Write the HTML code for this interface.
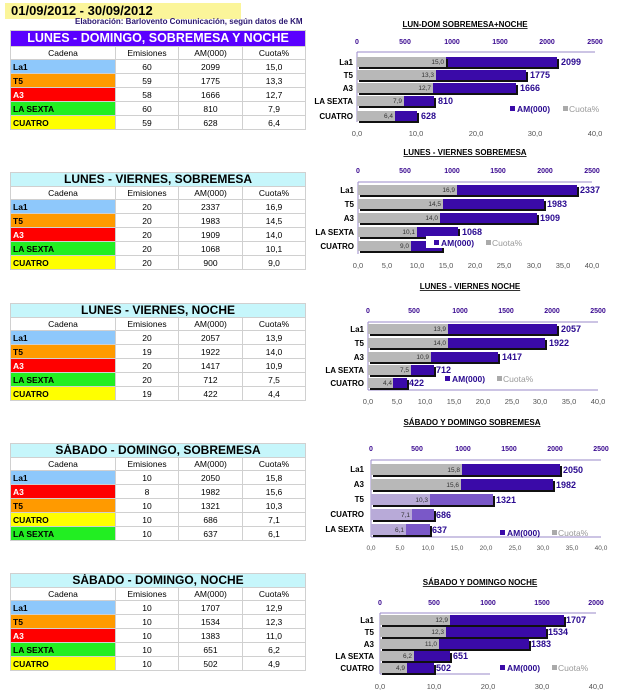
<!DOCTYPE html>
<html><head><meta charset="utf-8">
<style>
body{margin:0;width:617px;height:692px;background:#fff;position:relative;overflow:hidden;font-family:"Liberation Sans",sans-serif}
.t{position:absolute;left:10px;width:295px;border-collapse:collapse;table-layout:fixed;font-size:8.5px}
.t td{border:1px solid #d0d0d0;padding:0;text-align:center;height:13px;line-height:12px;overflow:hidden;white-space:nowrap}
.t td.n{text-align:left;font-weight:bold;padding-left:2px}
.t .ti td{background:#c6f6fb;font-weight:bold;font-size:12px;height:13px;line-height:13px}
.t .hd td{height:12px;line-height:12px}
.b{background:#8ec8fb}.o{background:#ff9a00}.r{background:#ff0000;color:#fff}.g{background:#22ee22}.y{background:#ffff00}
svg{position:absolute;left:0;top:0}
</style></head><body>
<div style="position:absolute;left:5px;top:3px;width:236px;height:16px;background:#fbf59a;font-weight:bold;font-size:13px;line-height:16px;padding-left:6px;box-sizing:border-box">01/09/2012 - 30/09/2012</div>
<div style="position:absolute;left:75px;top:17px;font-size:8px;font-weight:bold;color:#2a1670">Elaboración: Barlovento Comunicación, según datos de KM</div>

<table class="t" style="top:30px">
<colgroup><col style="width:105px"><col style="width:63px"><col style="width:64px"><col style="width:63px"></colgroup>
<tr class="ti"><td colspan="4" style="background:#5a00ff;color:#fff;height:15px;font-size:12.5px">LUNES - DOMINGO, SOBREMESA Y NOCHE</td></tr>
<tr class="hd"><td>Cadena</td><td>Emisiones</td><td>AM(000)</td><td>Cuota%</td></tr>
<tr><td class="n b">La1</td><td>60</td><td>2099</td><td>15,0</td></tr>
<tr><td class="n o">T5</td><td>59</td><td>1775</td><td>13,3</td></tr>
<tr><td class="n r">A3</td><td>58</td><td>1666</td><td>12,7</td></tr>
<tr><td class="n g">LA SEXTA</td><td>60</td><td>810</td><td>7,9</td></tr>
<tr><td class="n y">CUATRO</td><td>59</td><td>628</td><td>6,4</td></tr>
</table>

<table class="t" style="top:172px">
<colgroup><col style="width:105px"><col style="width:63px"><col style="width:64px"><col style="width:63px"></colgroup>
<tr class="ti"><td colspan="4">LUNES - VIERNES, SOBREMESA</td></tr>
<tr class="hd"><td>Cadena</td><td>Emisiones</td><td>AM(000)</td><td>Cuota%</td></tr>
<tr><td class="n b">La1</td><td>20</td><td>2337</td><td>16,9</td></tr>
<tr><td class="n o">T5</td><td>20</td><td>1983</td><td>14,5</td></tr>
<tr><td class="n r">A3</td><td>20</td><td>1909</td><td>14,0</td></tr>
<tr><td class="n g">LA SEXTA</td><td>20</td><td>1068</td><td>10,1</td></tr>
<tr><td class="n y">CUATRO</td><td>20</td><td>900</td><td>9,0</td></tr>
</table>

<table class="t" style="top:303px">
<colgroup><col style="width:105px"><col style="width:63px"><col style="width:64px"><col style="width:63px"></colgroup>
<tr class="ti"><td colspan="4">LUNES - VIERNES, NOCHE</td></tr>
<tr class="hd"><td>Cadena</td><td>Emisiones</td><td>AM(000)</td><td>Cuota%</td></tr>
<tr><td class="n b">La1</td><td>20</td><td>2057</td><td>13,9</td></tr>
<tr><td class="n o">T5</td><td>19</td><td>1922</td><td>14,0</td></tr>
<tr><td class="n r">A3</td><td>20</td><td>1417</td><td>10,9</td></tr>
<tr><td class="n g">LA SEXTA</td><td>20</td><td>712</td><td>7,5</td></tr>
<tr><td class="n y">CUATRO</td><td>19</td><td>422</td><td>4,4</td></tr>
</table>

<table class="t" style="top:443px">
<colgroup><col style="width:105px"><col style="width:63px"><col style="width:64px"><col style="width:63px"></colgroup>
<tr class="ti"><td colspan="4">SÁBADO - DOMINGO, SOBREMESA</td></tr>
<tr class="hd"><td>Cadena</td><td>Emisiones</td><td>AM(000)</td><td>Cuota%</td></tr>
<tr><td class="n b">La1</td><td>10</td><td>2050</td><td>15,8</td></tr>
<tr><td class="n r">A3</td><td>8</td><td>1982</td><td>15,6</td></tr>
<tr><td class="n o">T5</td><td>10</td><td>1321</td><td>10,3</td></tr>
<tr><td class="n y">CUATRO</td><td>10</td><td>686</td><td>7,1</td></tr>
<tr><td class="n g">LA SEXTA</td><td>10</td><td>637</td><td>6,1</td></tr>
</table>

<table class="t" style="top:573px">
<colgroup><col style="width:105px"><col style="width:63px"><col style="width:64px"><col style="width:63px"></colgroup>
<tr class="ti"><td colspan="4">SÁBADO - DOMINGO, NOCHE</td></tr>
<tr class="hd"><td>Cadena</td><td>Emisiones</td><td>AM(000)</td><td>Cuota%</td></tr>
<tr><td class="n b">La1</td><td>10</td><td>1707</td><td>12,9</td></tr>
<tr><td class="n o">T5</td><td>10</td><td>1534</td><td>12,3</td></tr>
<tr><td class="n r">A3</td><td>10</td><td>1383</td><td>11,0</td></tr>
<tr><td class="n g">LA SEXTA</td><td>10</td><td>651</td><td>6,2</td></tr>
<tr><td class="n y">CUATRO</td><td>10</td><td>502</td><td>4,9</td></tr>
</table>

<svg width="617" height="692" font-family="Liberation Sans, sans-serif">
<defs>
<g id="d"></g>
</defs>
<style>
.tt{font-size:8px;font-weight:bold;text-decoration:underline;text-anchor:middle}
.tp{font-size:7px;font-weight:bold;fill:#3a0a90;text-anchor:middle}
.bt{font-size:7.5px;fill:#555;text-anchor:middle}
.cat{font-size:8px;font-weight:bold;text-anchor:end}
.cv{font-size:6.5px;fill:#333;text-anchor:end}
.av{font-size:9px;font-weight:bold;fill:#2a0a90}
.lg{font-size:8.5px;fill:#2a0a90;font-weight:bold}
.lg2{font-size:8.5px;fill:#999}
.ax{stroke:#9a88c8;stroke-width:1}
.pu{fill:#3a0aa8}.gr{fill:#b8b8b8}.sh{fill:#111}
.lp{fill:#7a58c8}.lgr{fill:#b8aad8}
</style>

<!-- Chart 1 -->
<text class="tt" x="465" y="27">LUN-DOM SOBREMESA+NOCHE</text>
<g class="tp"><text x="357" y="44">0</text><text x="405" y="44">500</text><text x="452" y="44">1000</text><text x="500" y="44">1500</text><text x="547" y="44">2000</text><text x="595" y="44">2500</text></g>
<line class="ax" x1="357" y1="52" x2="595" y2="52"/>
<line class="ax" x1="357" y1="52" x2="357" y2="122"/>
<g>
<rect class="sh" x="359" y="59" width="200" height="10"/><rect class="pu" x="357" y="57" width="200" height="10"/><rect class="sh" x="359" y="59" width="89" height="9"/><rect class="gr" x="357" y="57" width="89" height="10"/><text class="cv" x="444" y="64">15,0</text><text class="av" x="561" y="65">2099</text>
<rect class="sh" x="359" y="72" width="169" height="10"/><rect class="pu" x="357" y="70" width="169" height="10"/><rect class="gr" x="357" y="70" width="79" height="10"/><text class="cv" x="434" y="77">13,3</text><text class="av" x="530" y="78">1775</text>
<rect class="sh" x="359" y="85" width="159" height="10"/><rect class="pu" x="357" y="83" width="159" height="10"/><rect class="gr" x="357" y="83" width="76" height="10"/><text class="cv" x="431" y="90">12,7</text><text class="av" x="520" y="91">1666</text>
<rect class="sh" x="359" y="98" width="77" height="10"/><rect class="pu" x="357" y="96" width="77" height="10"/><rect class="gr" x="357" y="96" width="47" height="10"/><text class="cv" x="402" y="103">7,9</text><text class="av" x="438" y="104">810</text>
<rect class="sh" x="359" y="113" width="60" height="10"/><rect class="pu" x="357" y="111" width="60" height="10"/><rect class="gr" x="357" y="111" width="38" height="10"/><text class="cv" x="393" y="118">6,4</text><text class="av" x="421" y="119">628</text>
</g>
<g class="cat"><text x="353" y="65">La1</text><text x="353" y="78">T5</text><text x="353" y="91">A3</text><text x="353" y="104">LA SEXTA</text><text x="353" y="119">CUATRO</text></g>
<rect x="510" y="106" width="5" height="5" class="pu"/><text class="lg" x="517" y="112">AM(000)</text><rect x="563" y="106" width="5" height="5" fill="#aaa"/><text class="lg2" x="569" y="112">Cuota%</text>
<g class="bt"><text x="357" y="136">0,0</text><text x="416" y="136">10,0</text><text x="476" y="136">20,0</text><text x="535" y="136">30,0</text><text x="595" y="136">40,0</text></g>

<!-- Chart 2 -->
<text class="tt" x="465" y="155">LUNES - VIERNES SOBREMESA</text>
<g class="tp"><text x="358" y="173">0</text><text x="405" y="173">500</text><text x="452" y="173">1000</text><text x="498" y="173">1500</text><text x="545" y="173">2000</text><text x="592" y="173">2500</text></g>
<line class="ax" x1="358" y1="182" x2="592" y2="182"/>
<line class="ax" x1="358" y1="182" x2="358" y2="254"/>
<rect class="sh" x="360" y="187" width="219" height="10"/><rect class="pu" x="358" y="185" width="219" height="10"/><rect class="gr" x="358" y="185" width="99" height="10"/><text class="cv" x="455" y="192">16,9</text><text class="av" x="580" y="193">2337</text>
<rect class="sh" x="360" y="201" width="186" height="10"/><rect class="pu" x="358" y="199" width="186" height="10"/><rect class="gr" x="358" y="199" width="85" height="10"/><text class="cv" x="441" y="206">14,5</text><text class="av" x="547" y="207">1983</text>
<rect class="sh" x="360" y="215" width="179" height="10"/><rect class="pu" x="358" y="213" width="179" height="10"/><rect class="gr" x="358" y="213" width="82" height="10"/><text class="cv" x="438" y="220">14,0</text><text class="av" x="540" y="221">1909</text>
<rect class="sh" x="360" y="229" width="100" height="10"/><rect class="pu" x="358" y="227" width="100" height="10"/><rect class="gr" x="358" y="227" width="59" height="10"/><text class="cv" x="415" y="234">10,1</text><text class="av" x="462" y="235">1068</text>
<rect class="sh" x="360" y="243" width="84" height="10"/><rect class="pu" x="358" y="241" width="84" height="10"/><rect class="gr" x="358" y="241" width="53" height="10"/><text class="cv" x="409" y="248">9,0</text>
<rect x="426" y="236" width="80" height="12" fill="#fff"/>
<rect x="434" y="240" width="5" height="5" class="pu"/><text class="lg" x="441" y="246">AM(000)</text><rect x="486" y="240" width="5" height="5" fill="#aaa"/><text class="lg2" x="492" y="246">Cuota%</text>
<g class="cat"><text x="354" y="193">La1</text><text x="354" y="207">T5</text><text x="354" y="221">A3</text><text x="354" y="235">LA SEXTA</text><text x="354" y="249">CUATRO</text></g>
<g class="bt"><text x="358" y="268">0,0</text><text x="387" y="268">5,0</text><text x="417" y="268">10,0</text><text x="446" y="268">15,0</text><text x="475" y="268">20,0</text><text x="504" y="268">25,0</text><text x="534" y="268">30,0</text><text x="563" y="268">35,0</text><text x="592" y="268">40,0</text></g>

<!-- Chart 3 -->
<text class="tt" x="470" y="289">LUNES - VIERNES  NOCHE</text>
<g class="tp"><text x="368" y="313">0</text><text x="414" y="313">500</text><text x="460" y="313">1000</text><text x="506" y="313">1500</text><text x="552" y="313">2000</text><text x="598" y="313">2500</text></g>
<line class="ax" x1="368" y1="322" x2="598" y2="322"/>
<line class="ax" x1="368" y1="322" x2="368" y2="390"/>
<line class="ax" x1="368" y1="390" x2="598" y2="390"/>
<rect class="sh" x="370" y="326" width="189" height="10"/><rect class="pu" x="368" y="324" width="189" height="10"/><rect class="gr" x="368" y="324" width="80" height="10"/><text class="cv" x="446" y="331">13,9</text><text class="av" x="561" y="332">2057</text>
<rect class="sh" x="370" y="340" width="177" height="10"/><rect class="pu" x="368" y="338" width="177" height="10"/><rect class="gr" x="368" y="338" width="80" height="10"/><text class="cv" x="446" y="345">14,0</text><text class="av" x="549" y="346">1922</text>
<rect class="sh" x="370" y="354" width="130" height="10"/><rect class="pu" x="368" y="352" width="130" height="10"/><rect class="gr" x="368" y="352" width="63" height="10"/><text class="cv" x="429" y="359">10,9</text><text class="av" x="502" y="360">1417</text>
<rect class="sh" x="370" y="367" width="66" height="10"/><rect class="pu" x="368" y="365" width="66" height="10"/><rect class="gr" x="368" y="365" width="43" height="10"/><text class="cv" x="409" y="372">7,5</text><text class="av" x="436" y="373">712</text>
<rect class="sh" x="370" y="380" width="39" height="10"/><rect class="pu" x="368" y="378" width="39" height="10"/><rect class="gr" x="368" y="378" width="25" height="10"/><text class="cv" x="392" y="385">4,4</text><text class="av" x="409" y="386">422</text>
<rect x="445" y="376" width="5" height="5" class="pu"/><text class="lg" x="452" y="382">AM(000)</text><rect x="497" y="376" width="5" height="5" fill="#aaa"/><text class="lg2" x="503" y="382">Cuota%</text>
<g class="cat"><text x="364" y="332">La1</text><text x="364" y="346">T5</text><text x="364" y="360">A3</text><text x="364" y="373">LA SEXTA</text><text x="364" y="386">CUATRO</text></g>
<g class="bt"><text x="368" y="404">0,0</text><text x="397" y="404">5,0</text><text x="425" y="404">10,0</text><text x="454" y="404">15,0</text><text x="483" y="404">20,0</text><text x="512" y="404">25,0</text><text x="540" y="404">30,0</text><text x="569" y="404">35,0</text><text x="598" y="404">40,0</text></g>

<!-- Chart 4 -->
<text class="tt" x="472" y="425">SÁBADO Y DOMINGO SOBREMESA</text>
<g class="tp"><text x="371" y="451">0</text><text x="417" y="451">500</text><text x="463" y="451">1000</text><text x="509" y="451">1500</text><text x="555" y="451">2000</text><text x="601" y="451">2500</text></g>
<line class="ax" x1="371" y1="460" x2="601" y2="460"/>
<line class="ax" x1="371" y1="460" x2="371" y2="537"/>
<line class="ax" x1="371" y1="537" x2="601" y2="537"/>
<rect class="sh" x="373" y="466" width="189" height="11"/><rect class="pu" x="371" y="464" width="189" height="11"/><rect class="gr" x="371" y="464" width="91" height="11"/><text class="cv" x="460" y="472">15,8</text><text class="av" x="563" y="473">2050</text>
<rect class="sh" x="373" y="481" width="182" height="11"/><rect class="pu" x="371" y="479" width="182" height="11"/><rect class="gr" x="371" y="479" width="90" height="11"/><text class="cv" x="459" y="487">15,6</text><text class="av" x="556" y="488">1982</text>
<rect class="sh" x="373" y="496" width="122" height="11"/><rect class="lp" x="371" y="494" width="122" height="11"/><rect class="lgr" x="371" y="494" width="59" height="11"/><text class="cv" x="428" y="502">10,3</text><text class="av" x="496" y="503">1321</text>
<rect class="sh" x="373" y="511" width="63" height="11"/><rect class="lp" x="371" y="509" width="63" height="11"/><rect class="lgr" x="371" y="509" width="41" height="11"/><text class="cv" x="410" y="517">7,1</text><text class="av" x="436" y="518">686</text>
<rect class="sh" x="373" y="526" width="59" height="11"/><rect class="lp" x="371" y="524" width="59" height="11"/><rect class="lgr" x="371" y="524" width="35" height="11"/><text class="cv" x="404" y="532">6,1</text><text class="av" x="432" y="533">637</text>
<rect x="500" y="530" width="5" height="5" class="pu"/><text class="lg" x="507" y="536">AM(000)</text><rect x="552" y="530" width="5" height="5" fill="#aaa"/><text class="lg2" x="558" y="536">Cuota%</text>
<g class="cat"><text x="364" y="472">La1</text><text x="364" y="487">A3</text><text x="364" y="502">T5</text><text x="364" y="517">CUATRO</text><text x="364" y="532">LA SEXTA</text></g>
<g class="bt" style="font-size:6.5px"><text x="371" y="550">0,0</text><text x="400" y="550">5,0</text><text x="428" y="550">10,0</text><text x="457" y="550">15,0</text><text x="486" y="550">20,0</text><text x="515" y="550">25,0</text><text x="543" y="550">30,0</text><text x="572" y="550">35,0</text><text x="601" y="550">40,0</text></g>

<!-- Chart 5 -->
<text class="tt" x="480" y="585">SÁBADO Y DOMINGO  NOCHE</text>
<g class="tp"><text x="380" y="605">0</text><text x="434" y="605">500</text><text x="488" y="605">1000</text><text x="542" y="605">1500</text><text x="596" y="605">2000</text></g>
<line class="ax" x1="380" y1="613" x2="596" y2="613"/>
<line class="ax" x1="380" y1="613" x2="380" y2="674"/>
<line class="ax" x1="380" y1="674" x2="490" y2="674"/>
<rect class="sh" x="382" y="617" width="184" height="10"/><rect class="pu" x="380" y="615" width="184" height="10"/><rect class="gr" x="380" y="615" width="70" height="10"/><text class="cv" x="448" y="622">12,9</text><text class="av" x="566" y="623">1707</text>
<rect class="sh" x="382" y="629" width="166" height="10"/><rect class="pu" x="380" y="627" width="166" height="10"/><rect class="gr" x="380" y="627" width="66" height="10"/><text class="cv" x="444" y="634">12,3</text><text class="av" x="548" y="635">1534</text>
<rect class="sh" x="382" y="641" width="149" height="10"/><rect class="pu" x="380" y="639" width="149" height="10"/><rect class="gr" x="380" y="639" width="59" height="10"/><text class="cv" x="437" y="646">11,0</text><text class="av" x="531" y="647">1383</text>
<rect class="sh" x="382" y="653" width="70" height="10"/><rect class="pu" x="380" y="651" width="70" height="10"/><rect class="gr" x="380" y="651" width="34" height="10"/><text class="cv" x="412" y="658">6,2</text><text class="av" x="453" y="659">651</text>
<rect class="sh" x="382" y="665" width="54" height="10"/><rect class="pu" x="380" y="663" width="54" height="10"/><rect class="gr" x="380" y="663" width="27" height="10"/><text class="cv" x="405" y="670">4,9</text><text class="av" x="436" y="671">502</text>
<rect x="500" y="665" width="5" height="5" class="pu"/><text class="lg" x="507" y="671">AM(000)</text><rect x="552" y="665" width="5" height="5" fill="#aaa"/><text class="lg2" x="558" y="671">Cuota%</text>
<g class="cat"><text x="374" y="623">La1</text><text x="374" y="635">T5</text><text x="374" y="647">A3</text><text x="374" y="659">LA SEXTA</text><text x="374" y="671">CUATRO</text></g>
<g class="bt"><text x="380" y="689">0,0</text><text x="434" y="689">10,0</text><text x="488" y="689">20,0</text><text x="542" y="689">30,0</text><text x="596" y="689">40,0</text></g>
</svg>
</body></html>
